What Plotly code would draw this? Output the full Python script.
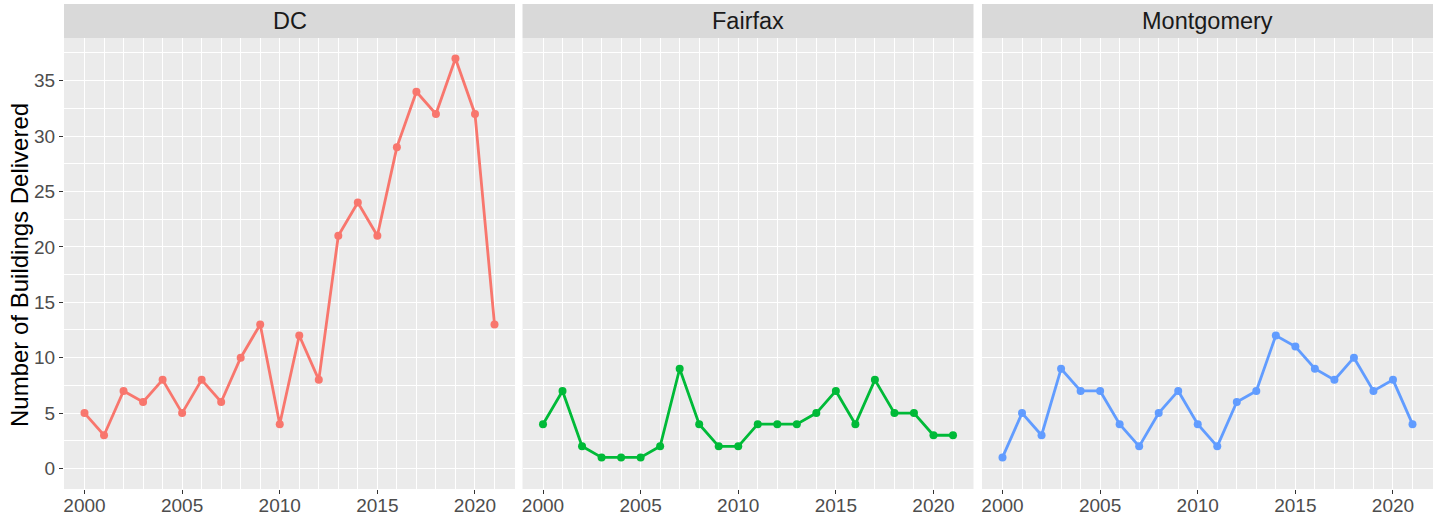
import plotly.graph_objects as go
from plotly.subplots import make_subplots

years = list(range(2000, 2022))
counties = ["DC", "Fairfax", "Montgomery"]
dc = [5, 3, 7, 6, 8, 5, 8, 6, 10, 13, 4, 12, 8, 21, 24, 21, 29, 34, 32, 37, 32, 13]
fairfax = [4, 7, 2, 1, 1, 1, 2, 9, 4, 2, 2, 4, 4, 4, 5, 7, 4, 8, 5, 5, 3, 3]
montgomery = [1, 5, 3, 9, 7, 7, 4, 2, 5, 7, 4, 2, 6, 7, 12, 11, 9, 8, 10, 7, 8, 4]
series = [dc, fairfax, montgomery]
colors = ["#F8766D", "#00BA38", "#619CFF"]
x_ticks = [2000, 2005, 2010, 2015, 2020]
y_ticks = [0, 5, 10, 15, 20, 25, 30, 35]
y_title = "Number of Buildings Delivered"

W, H = 1438, 518
ml, mr, mt, mb = 64, 5, 38, 29
pw = W - ml - mr
ph = H - mt - mb
panels_px = [(64, 515), (522.5, 973.5), (982, 1433)]
domains = [((a - ml) / pw, (b - ml) / pw) for a, b in panels_px]

fig = make_subplots(rows=1, cols=3, shared_yaxes=True, horizontal_spacing=0.01)

for i, (vals, col) in enumerate(zip(series, colors)):
    fig.add_trace(go.Scatter(x=years, y=vals, mode="lines+markers",
                             line=dict(color=col, width=2.8),
                             marker=dict(color=col, size=8),
                             showlegend=False, name=counties[i]),
                  row=1, col=i + 1)

font_family = "Arial, Liberation Sans, sans-serif"
for i in range(3):
    ax = "xaxis" if i == 0 else f"xaxis{i+1}"
    fig.layout[ax].update(
        domain=list(domains[i]), range=[1998.95, 2022.05], automargin=False,
        tickvals=x_ticks, ticktext=[str(t) for t in x_ticks],
        showgrid=True, gridcolor="white", gridwidth=1.4,
        minor=dict(dtick=1, tick0=2000, showgrid=True, gridcolor="white", gridwidth=0.7),
        ticks="outside", ticklen=4, tickcolor="#333333", tickwidth=1,
        ticklabelstandoff=-5,
        tickfont=dict(size=19, color="#4D4D4D", family=font_family),
        zeroline=False, showline=False,
    )
    ay = "yaxis" if i == 0 else f"yaxis{i+1}"
    fig.layout[ay].update(
        range=[-1.85, 38.85], tickvals=y_ticks, automargin=False,
        showgrid=True, gridcolor="white", gridwidth=1.4,
        minor=dict(dtick=2.5, tick0=0, showgrid=True, gridcolor="white", gridwidth=0.7),
        zeroline=False, showline=False,
        ticks="outside" if i == 0 else "", ticklen=4, tickcolor="#333333", tickwidth=1,
        showticklabels=(i == 0),
        tickfont=dict(size=19, color="#4D4D4D", family=font_family),
    )

shapes = []
annotations = []
strip_h = 34 / ph
for i, (d0, d1) in enumerate(domains):
    shapes.append(dict(type="rect", xref="paper", yref="paper", x0=d0, x1=d1,
                       y0=0, y1=1, fillcolor="#EBEBEB", line=dict(width=0), layer="below"))
    shapes.append(dict(type="rect", xref="paper", yref="paper", x0=d0, x1=d1,
                       y0=1, y1=1 + strip_h, fillcolor="#D9D9D9", line=dict(width=0)))
    annotations.append(dict(text=counties[i], xref="paper", yref="paper",
                            x=(d0 + d1) / 2, y=1 + strip_h / 2, showarrow=False,
                            xanchor="center", yanchor="middle",
                            font=dict(size=23.5, color="#1A1A1A", family=font_family)))
annotations.append(dict(text=y_title, xref="paper", yref="paper",
                        x=(19 - ml) / pw, y=(H - mb - 265) / ph, showarrow=False,
                        textangle=-90, xanchor="center", yanchor="middle",
                        font=dict(size=24, color="black", family=font_family)))

fig.update_layout(width=W, height=H, margin=dict(l=ml, r=mr, t=mt, b=mb, autoexpand=False),
                  paper_bgcolor="white", plot_bgcolor="rgba(0,0,0,0)",
                  shapes=shapes, annotations=annotations,
                  font=dict(family=font_family))

fig.write_html("out.html", config={"displayModeBar": False},
               post_script="document.body.style.margin='0px';")
